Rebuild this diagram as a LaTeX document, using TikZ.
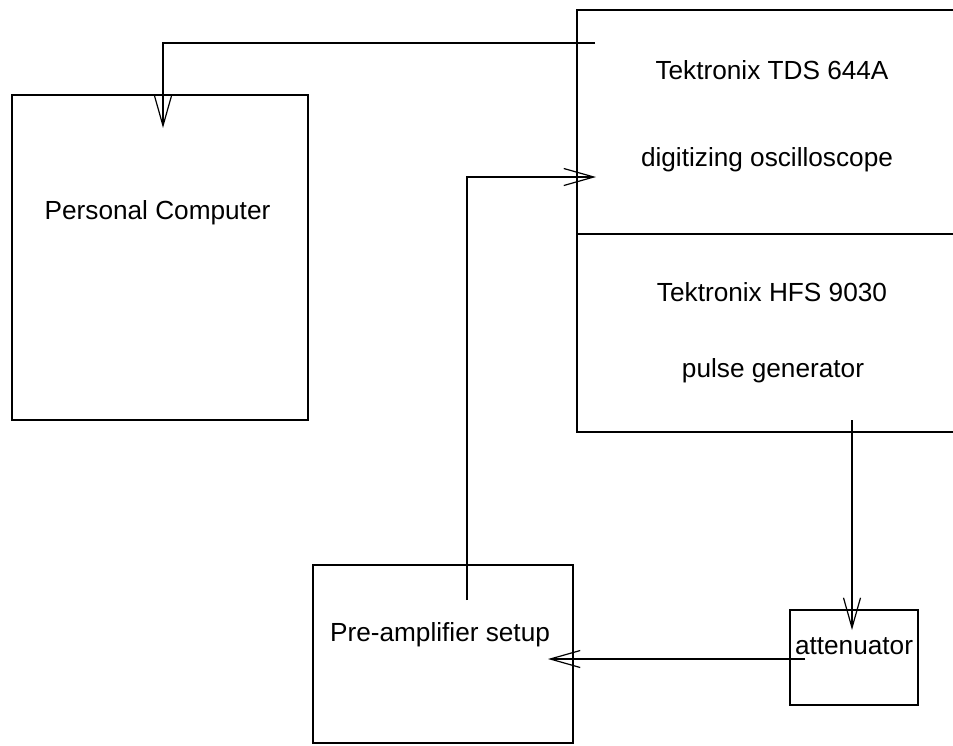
\documentclass[tikz,border=0pt]{standalone}
\usepackage{fontspec}
\setmainfont{Liberation Sans}
\usetikzlibrary{arrows.meta}

\begin{document}
\begin{tikzpicture}[x=0.5pt, y=-0.5pt, line width=0.6pt,
    box/.style = {draw, inner sep=0pt},
    txt/.style = {inner sep=0pt, font=\fontsize{13.1}{15}\selectfont},
    link/.style = {-{Straight Barb[length=15pt, width=8.5pt]}}]
  \useasboundingbox (0,0) rectangle (953,745);

  \node[box, minimum width=148pt, minimum height=162.5pt] (pc) at (160,257.5) {};
  \node[txt] at (157.5,213) {Personal Computer};

  \node[box, minimum width=191.5pt, minimum height=112pt] (scope) at (768.5,122) {};
  \node[txt] at (772,70) {Tektronix TDS 644A};
  \node[txt] at (767,160) {digitizing oscilloscope};

  \node[box, minimum width=191.5pt, minimum height=99pt] (gen) at (768.5,333) {};
  \node[txt] at (772,292) {Tektronix HFS 9030};
  \node[txt] at (773,371) {pulse generator};

  \node[box, minimum width=64pt, minimum height=47.5pt] (att) at (854,657.5) {};
  \node[txt] at (854,646) {attenuator};

  \node[box, minimum width=130pt, minimum height=89pt] (pre) at (443,654) {};
  \node[txt] at (440,635) {Pre-amplifier setup};

  % connections
  \coordinate (scopeout) at (595,43);
  \coordinate (pcin) at (163,128);
  \draw[link] (scopeout) -| (pcin);

  \coordinate (preout) at (467,600);
  \coordinate (scopein) at (596,177);
  \draw[link] (preout) |- (scopein);

  \coordinate (genout) at (852,420);
  \coordinate (attin) at (852,630);
  \draw[link] (genout) -- (attin);

  \coordinate (attout) at (805,659);
  \coordinate (prein) at (548,659);
  \draw[link] (attout) -- (prein);
\end{tikzpicture}
\end{document}
